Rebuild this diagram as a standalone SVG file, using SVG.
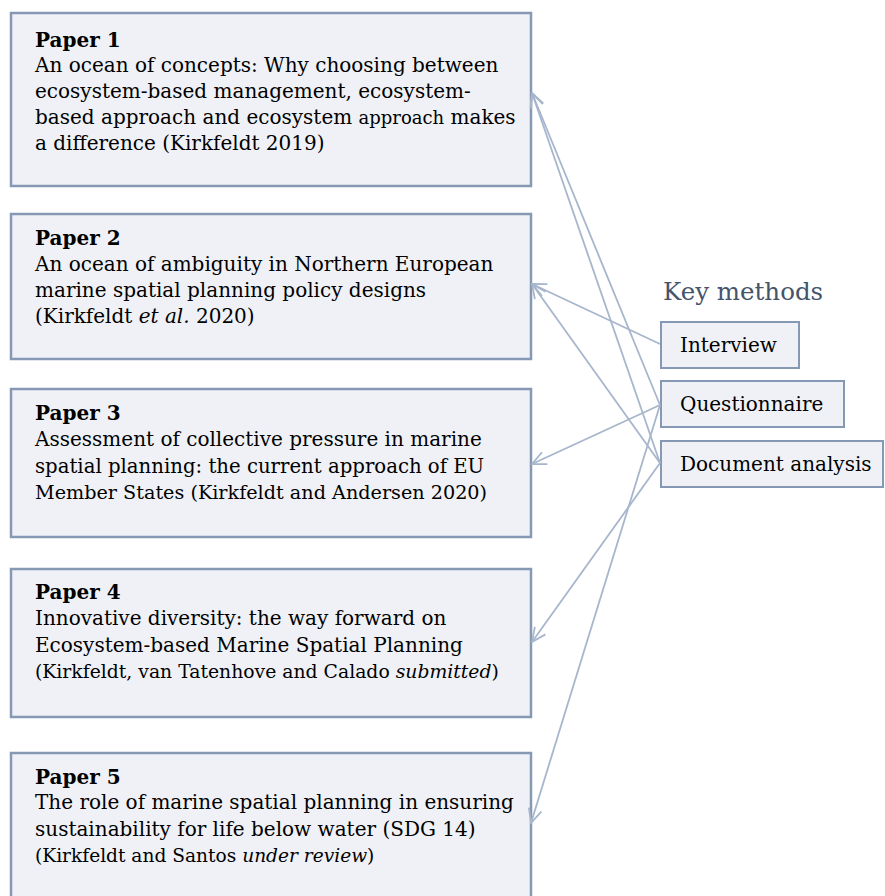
<svg xmlns="http://www.w3.org/2000/svg" width="885" height="896" viewBox="0 0 885 896">
  <style>
    .paper { fill: #eff1f6; stroke: #8699b4; stroke-width: 2.5; }
    .method { fill: #eff1f6; stroke: #8699b4; stroke-width: 2; }
    .txt { font-family: "DejaVu Serif", "Liberation Serif", serif; font-size: 20px; fill: #000; }
    .bold { font-weight: bold; }
    .it { font-style: italic; }
    .heading { font-family: "DejaVu Serif", "Liberation Serif", serif; font-size: 24.5px; fill: #44546a; }
    .conn { stroke: #a7b6cc; stroke-width: 1.8; fill: none; marker-end: url(#openArrow); }
  </style>
  <defs>
    <marker id="openArrow" viewBox="0 0 16 16" refX="15" refY="8" markerWidth="16" markerHeight="16" markerUnits="userSpaceOnUse" orient="auto">
      <path d="M1,1.5 L15,8 L1,14.5" fill="none" stroke="#a7b6cc" stroke-width="1.8"/>
    </marker>
  </defs>

  <rect width="885" height="896" fill="#ffffff"/>

  <!-- Papers -->
  <g id="paper1">
    <rect class="paper" x="11" y="13" width="520" height="173"/>
    <text class="txt bold" x="35" y="47">Paper 1</text>
    <text class="txt" x="35" y="72">An ocean of concepts: Why choosing between</text>
    <text class="txt" x="35" y="98">ecosystem-based management, ecosystem-</text>
    <text class="txt" x="35" y="124">based approach and ecosystem <tspan style="font-size:18px">approach</tspan> makes</text>
    <text class="txt" x="35" y="150">a difference (Kirkfeldt 2019)</text>
  </g>

  <g id="paper2">
    <rect class="paper" x="11" y="214" width="520" height="145"/>
    <text class="txt bold" x="35" y="245">Paper 2</text>
    <text class="txt" x="35" y="271">An ocean of ambiguity in Northern European</text>
    <text class="txt" x="35" y="297">marine spatial planning policy designs</text>
    <text class="txt" x="35" y="323">(Kirkfeldt <tspan class="it">et al.</tspan> 2020)</text>
  </g>

  <g id="paper3">
    <rect class="paper" x="11" y="389" width="520" height="148"/>
    <text class="txt bold" x="35" y="420">Paper 3</text>
    <text class="txt" x="35" y="446">Assessment of collective pressure in marine</text>
    <text class="txt" x="35" y="473" style="font-size:19.7px">spatial planning: the current approach of EU</text>
    <text class="txt" x="35" y="499" style="font-size:19.2px">Member States (Kirkfeldt and Andersen 2020)</text>
  </g>

  <g id="paper4">
    <rect class="paper" x="11" y="569" width="520" height="148"/>
    <text class="txt bold" x="35" y="599">Paper 4</text>
    <text class="txt" x="35" y="625">Innovative diversity: the way forward on</text>
    <text class="txt" x="35" y="652">Ecosystem-based Marine Spatial Planning</text>
    <text class="txt" x="35" y="678" style="font-size:18.8px">(Kirkfeldt, van Tatenhove and Calado <tspan class="it">submitted</tspan>)</text>
  </g>

  <g id="paper5">
    <rect class="paper" x="11" y="753" width="520" height="160"/>
    <text class="txt bold" x="35" y="784">Paper 5</text>
    <text class="txt" x="35" y="809">The role of marine spatial planning in ensuring</text>
    <text class="txt" x="35" y="836">sustainability for life below water (SDG 14)</text>
    <text class="txt" x="35" y="862" style="font-size:18.6px">(Kirkfeldt and Santos <tspan class="it">under review</tspan>)</text>
  </g>

  <!-- Methods -->
  <g id="key-methods">
    <text class="heading" x="663" y="300">Key methods</text>
  </g>
  <g id="interview">
    <rect class="method" x="661" y="322" width="138" height="46"/>
    <text class="txt" x="680" y="352">Interview</text>
  </g>
  <g id="questionnaire">
    <rect class="method" x="661" y="381" width="183" height="46"/>
    <text class="txt" x="680" y="411">Questionnaire</text>
  </g>
  <g id="document-analysis">
    <rect class="method" x="661" y="441" width="222" height="46"/>
    <text class="txt" x="680" y="471">Document analysis</text>
  </g>

  <!-- Connectors: method boxes to the papers that use them -->
  <g id="connectors">
    <line class="conn" x1="660" y1="344" x2="532" y2="284"/>
    <line class="conn" x1="660" y1="405" x2="532" y2="93"/>
    <line class="conn" x1="660" y1="405" x2="532" y2="464"/>
    <line class="conn" x1="660" y1="405" x2="531" y2="823"/>
    <line class="conn" x1="660" y1="463" x2="532" y2="93"/>
    <line class="conn" x1="660" y1="463" x2="532" y2="284"/>
    <line class="conn" x1="660" y1="463" x2="532" y2="642"/>
  </g>
</svg>
